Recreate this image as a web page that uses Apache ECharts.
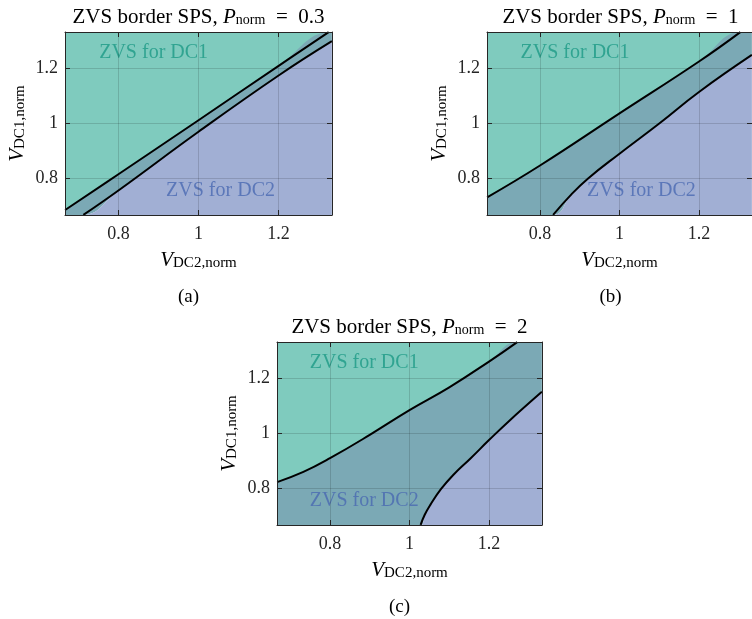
<!DOCTYPE html>
<html>
<head>
<meta charset="utf-8">
<script src="https://cdn.jsdelivr.net/npm/echarts@6/dist/echarts.min.js"></script>
<style>
  html, body { margin: 0; padding: 0; background: #fff; }
  #main { width: 752px; height: 619px; }
</style>
</head>
<body>
<div id="main"></div>
<script>
// axis range & ticks (same for all three panels)
var V_MIN = 2 / 3, V_MAX = 4 / 3;
var tickVals = [0.8, 1, 1.2];
var powers = ['0.3', '1', '2'];
var panelTags = ['(a)', '(b)', '(c)'];

// ZVS borders, [V_DC2, V_DC1]
var upperA = [[0.667, 0.685], [0.8, 0.815], [1.0, 1.012], [1.2, 1.21], [1.325, 1.333]];
var lowerA = [[0.7125, 0.667], [0.8, 0.756], [1.0, 0.97], [1.2, 1.175], [1.333, 1.30]];
var upperB = [[0.667, 0.731], [0.8, 0.847], [1.0, 1.037], [1.2, 1.226], [1.304, 1.333]];
var lowerB = [[0.833, 0.667], [0.879, 0.742], [0.921, 0.8], [1.0, 0.89], [1.1, 1.0], [1.2, 1.115], [1.333, 1.25]];
var upperC = [[0.667, 0.823], [0.733, 0.86], [0.8, 0.91], [0.9, 0.995], [1.0, 1.085], [1.1, 1.168], [1.2, 1.262], [1.271, 1.333]];
var lowerC = [[1.028, 0.667], [1.038, 0.703], [1.052, 0.739], [1.079, 0.797], [1.11, 0.849], [1.154, 0.91], [1.2, 0.976], [1.25, 1.045], [1.333, 1.152]];

// region label anchors [V_DC2, V_DC1]
var dc1Label = [[0.888, 1.258], [0.888, 1.258], [0.886, 1.256]];
var dc2Label = [[1.055, 0.755], [1.055, 0.755], [0.886, 0.756]];

var uppers = [upperA, upperB, upperC];
var lowers = [lowerA, lowerB, lowerC];

// layout
var grids = [
    { left: 65, top: 32, width: 267, height: 183 },
    { left: 487, top: 32, width: 267, height: 183 },
    { left: 277, top: 342, width: 265, height: 183 }
];
var FONT = 'Liberation Serif';
var C_DC1 = '#7fcbbe', C_DC2 = '#a1afd4', C_BOTH = '#7ba9b5';
var AX = '#262626';
var SMOOTH = 0.45;

// 曲线从底边开始时补左下角, 到顶边结束时补右上角
function padBottom(c) {
    var out = c.slice();
    if (out[0][0] > V_MIN && out[0][1] <= V_MIN + 1e-3) out.unshift([V_MIN, V_MIN]);
    return out;
}
function padTop(c) {
    var out = c.slice();
    var last = out[out.length - 1];
    if (last[0] < V_MAX && last[1] >= V_MAX - 1e-3) out.push([V_MAX, V_MAX]);
    return out;
}

var tickFmt = function (v) { return Math.abs(v - 1) < 1e-9 ? '1' : v.toFixed(1); };

var nameRich = {
    v: { fontFamily: FONT, fontStyle: 'italic', fontSize: 21, lineHeight: 21, verticalAlign: 'top', color: '#000' },
    s: { fontFamily: FONT, fontSize: 15, lineHeight: 11, verticalAlign: 'bottom', color: '#000' }
};

var xAxis = [], yAxis = [], series = [], title = [];

for (let i of [0, 1, 2]) {
    xAxis.push({
        type: 'value', gridIndex: i, min: V_MIN, max: V_MAX, position: 'bottom', z: 5,
        axisLine: { show: true, onZero: false, lineStyle: { color: AX, width: 1 } },
        axisTick: { show: true, inside: true, length: 5, customValues: tickVals, lineStyle: { color: AX } },
        axisLabel: { customValues: tickVals, formatter: tickFmt, fontFamily: FONT, fontSize: 18, color: AX, margin: 10 },
        splitLine: { show: false },
        name: '{v|V}{s|DC2,norm}', nameLocation: 'middle', nameGap: 35,
        nameTextStyle: { rich: nameRich }
    });
    yAxis.push({
        type: 'value', gridIndex: i, min: V_MIN, max: V_MAX, position: 'left', z: 5,
        axisLine: { show: true, onZero: false, lineStyle: { color: AX, width: 1 } },
        axisTick: { show: true, inside: true, length: 5, customValues: tickVals, lineStyle: { color: AX } },
        axisLabel: { customValues: tickVals, formatter: tickFmt, fontFamily: FONT, fontSize: 18, color: AX, margin: 7 },
        splitLine: { show: false },
        name: '{v|V}{s|DC1,norm}', nameLocation: 'middle', nameGap: 37, nameRotate: 90,
        nameTextStyle: { rich: nameRich }
    });
}
// box: top / right axes with inner ticks only
for (let i of [0, 1, 2]) {
    xAxis.push({
        type: 'value', gridIndex: i, min: V_MIN, max: V_MAX, position: 'top', z: 5,
        axisLine: { show: true, onZero: false, lineStyle: { color: AX, width: 1 } },
        axisTick: { show: true, inside: true, length: 5, customValues: tickVals, lineStyle: { color: AX } },
        axisLabel: { show: false }, splitLine: { show: false }
    });
    yAxis.push({
        type: 'value', gridIndex: i, min: V_MIN, max: V_MAX, position: 'right', z: 5,
        axisLine: { show: true, onZero: false, lineStyle: { color: AX, width: 1 } },
        axisTick: { show: true, inside: true, length: 5, customValues: tickVals, lineStyle: { color: AX } },
        axisLabel: { show: false }, splitLine: { show: false }
    });
}

var areaBase = { type: 'line', showSymbol: false, silent: true, smooth: SMOOTH, lineStyle: { width: 0 }, z: 1 };

for (let i of [0, 1, 2]) {
    let up = uppers[i], lo = lowers[i];
    // 两曲线之间: 重叠区
    series.push(Object.assign({}, areaBase, {
        xAxisIndex: i, yAxisIndex: i, data: padBottom(lo),
        areaStyle: { color: C_BOTH, opacity: 1, origin: 'end' }
    }));
    // 上曲线以上: DC1
    series.push(Object.assign({}, areaBase, {
        xAxisIndex: i, yAxisIndex: i, data: padTop(up),
        areaStyle: { color: C_DC1, opacity: 1, origin: 'end' }
    }));
    // 下曲线以下: DC2, 网格线挂在这里
    series.push(Object.assign({}, areaBase, {
        xAxisIndex: i, yAxisIndex: i, data: padBottom(lo),
        areaStyle: { color: C_DC2, opacity: 1, origin: 'start' },
        markLine: {
            silent: true, symbol: ['none', 'none'], label: { show: false }, animation: false,
            lineStyle: { color: 'rgba(0,0,0,0.14)', type: 'solid', width: 1 },
            data: tickVals.map(function (t) { return { xAxis: t }; })
                .concat(tickVals.map(function (t) { return { yAxis: t }; }))
        }
    }));
    for (let c of [up, lo]) {
        series.push({
            type: 'line', xAxisIndex: i, yAxisIndex: i, data: c, showSymbol: false, silent: true,
            smooth: SMOOTH, z: 3,
            lineStyle: { color: '#000', width: 2 }
        });
    }
    series.push({
        type: 'scatter', xAxisIndex: i, yAxisIndex: i, symbolSize: 1, silent: true, z: 4,
        itemStyle: { color: 'transparent' },
        data: [
            { value: dc1Label[i], label: { formatter: 'ZVS for DC1', color: '#1d9a86' } },
            { value: dc2Label[i], label: { formatter: 'ZVS for DC2', color: '#4a69b2' } }
        ],
        label: { show: true, position: 'inside', fontFamily: FONT, fontSize: 20 }
    });

    let g = grids[i];
    title.push({
        text: '{t|ZVS border SPS, }{i|P}{s|norm}{t|\u2002=\u2002' + powers[i] + '}',
        left: g.left + g.width / 2, top: g.top - 25, textAlign: 'center', padding: 0,
        textStyle: {
            fontWeight: 'normal',
            rich: {
                t: { fontFamily: FONT, fontSize: 21, fontWeight: 'normal', lineHeight: 20, verticalAlign: 'top', color: '#000' },
                i: { fontFamily: FONT, fontSize: 21, fontWeight: 'normal', fontStyle: 'italic', lineHeight: 20, verticalAlign: 'top', color: '#000' },
                s: { fontFamily: FONT, fontSize: 14, fontWeight: 'normal', lineHeight: 10, verticalAlign: 'bottom', color: '#000' }
            }
        }
    });
    title.push({
        text: panelTags[i],
        left: g.left + g.width / 2 - 10, top: g.top + g.height + 73, textAlign: 'center', padding: 0,
        textStyle: { fontFamily: FONT, fontSize: 19, fontWeight: 'normal', color: '#000' }
    });
}

var chart = echarts.init(document.getElementById('main'));
chart.setOption({
    animation: false,
    backgroundColor: '#fff',
    textStyle: { fontFamily: FONT },
    title: title,
    grid: grids,
    xAxis: xAxis,
    yAxis: yAxis,
    series: series
});
</script>
</body>
</html>
